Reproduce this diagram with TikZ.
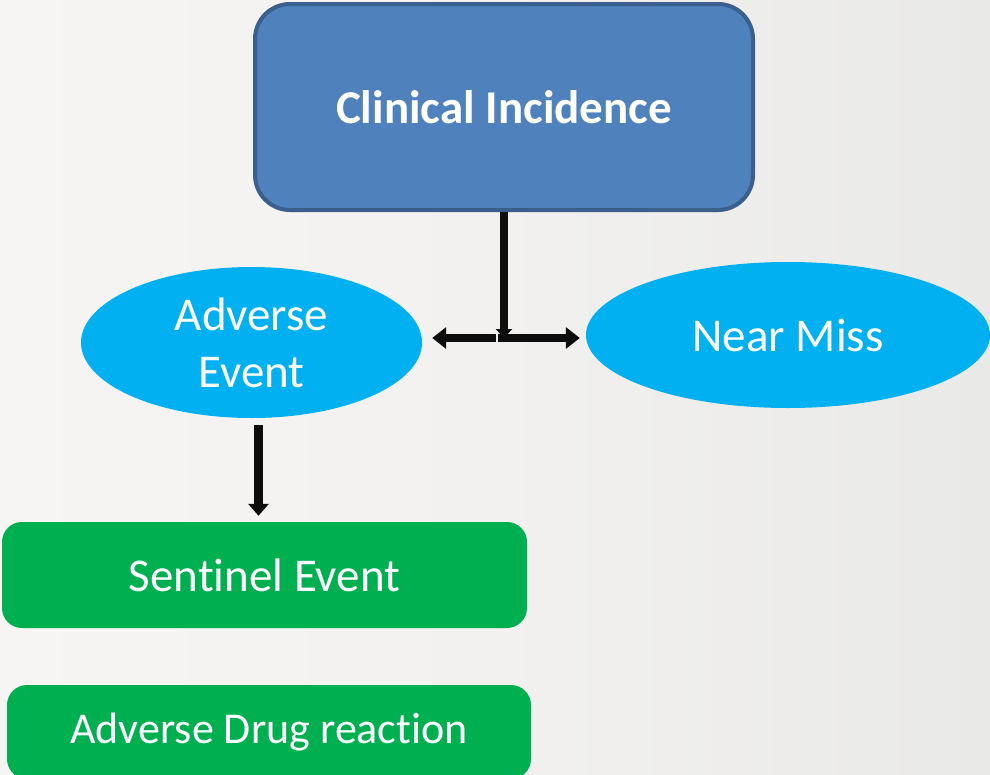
\documentclass[tikz,border=0pt]{standalone}
\usepackage{fontspec}
\setmainfont{Carlito}[Ligatures=NoCommon]
\usepackage[HTML]{xcolor}
\usepackage{tikz}
\usetikzlibrary{positioning, arrows.meta, shapes.geometric}

\definecolor{ciblue}{HTML}{4F81BD}
\definecolor{ciedge}{HTML}{3A5F8C}
\definecolor{evcyan}{HTML}{00B0F0}
\definecolor{evgreen}{HTML}{00B050}
\definecolor{bgleft}{HTML}{F6F5F3}
\definecolor{bgright}{HTML}{E9E9E7}
\definecolor{arrowblack}{HTML}{0D0D0D}

\begin{document}
\begin{tikzpicture}[x=1pt,y=-1pt,
  every node/.style={font=\fontsize{47}{57}\selectfont, text=white, align=center, inner sep=0pt},
  topbox/.style={rectangle, rounded corners=35pt, fill=ciblue, draw=ciedge, line width=4pt,
                 minimum width=498pt, minimum height=206pt},
  eventoval/.style={ellipse, fill=evcyan, draw=none},
  greenbox/.style={rectangle, rounded corners=20pt, fill=evgreen, draw=none, minimum width=524pt},
  arr/.style={draw=arrowblack, line width=8.5pt, -{Triangle[width=21pt,length=14pt]}}
]
% background
\shade[left color=bgleft, right color=bgright, middle color=bgleft!70!bgright] (0,0) rectangle (990,774);
\useasboundingbox (0,0) rectangle (990,774);

% top box
\node[topbox] (clin) at (504,107) {\bfseries Clinical Incidence};

% the two outcomes
\node[eventoval, minimum width=341pt, minimum height=151pt] (adv) at (251.5,342.5) {Adverse\\Event};
\node[eventoval, minimum width=404pt, minimum height=146pt] (near) at (788,335) {Near Miss};

% lower boxes
\node[greenbox, minimum width=525pt, minimum height=106pt] (sent) at (264.5,575) {Sentinel Event};
\node[greenbox, minimum height=94pt, font=\fontsize{44}{53}\selectfont] (adr) at (269,732) {Adverse Drug reaction};

% connectors
\coordinate (split) at (504,338);
\draw[arr, -{Triangle[width=16pt,length=9pt]}] (clin.south) -- (split);
\draw[arr, shorten <=8pt, shorten >=10pt] (split) -- (adv.east |- split);
\draw[arr, shorten <=-6pt, shorten >=6pt] (split) -- (near.west |- split);
\draw[arr, -{Triangle[width=20pt,length=12pt]}, shorten <=7pt, shorten >=6pt]
  ([xshift=7pt]adv.south) -- ([xshift=7pt]adv.south |- sent.north);

\end{tikzpicture}
\end{document}
